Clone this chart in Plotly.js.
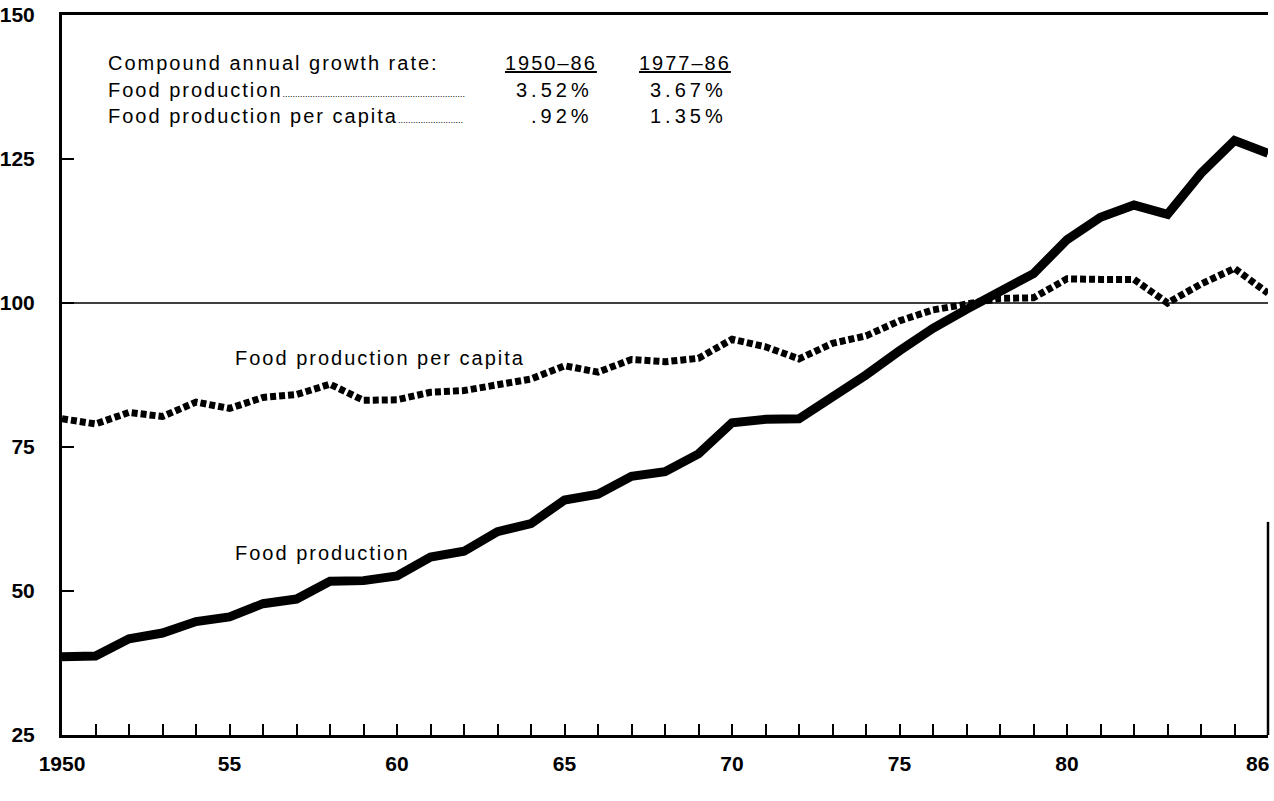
<!DOCTYPE html>
<html>
<head>
<meta charset="utf-8">
<script src="https://cdn.plot.ly/plotly-3.0.1.min.js"></script>
<style>
  html, body { margin: 0; padding: 0; background: #fff; }
  #chart { width: 1274px; height: 801px; }
</style>
</head>
<body>
<div id="chart"></div>
<script>
// ---- Data (index) ----
const years = [1950,1951,1952,1953,1954,1955,1956,1957,1958,1959,1960,
               1961,1962,1963,1964,1965,1966,1967,1968,1969,1970,1971,1972,
               1973,1974,1975,1976,1977,1978,1979,1980,1981,1982,1983,1984,1985,1986];

const foodProduction = [38.6, 38.7, 41.7, 42.7, 44.7, 45.5, 47.8, 48.6, 51.7, 51.8, 52.6,
                        55.9, 56.9, 60.3, 61.7, 65.8, 66.8, 69.9, 70.7, 73.8, 79.2, 79.8, 79.9,
                        83.6, 87.5, 91.7, 95.6, 98.9, 102.0, 105.1, 111.0, 114.9, 117.0, 115.4, 122.5, 128.2, 126.0];

const foodPerCapita = [79.9, 79.0, 81.0, 80.3, 82.8, 81.7, 83.6, 84.1, 85.9, 83.1, 83.2,
                       84.5, 84.8, 85.8, 86.8, 89.1, 88.0, 90.2, 89.8, 90.4, 93.7, 92.4, 90.3,
                       93.0, 94.3, 96.9, 98.8, 99.8, 100.8, 100.9, 104.2, 104.1, 104.1, 100.0, 103.3, 106.0, 101.7];

const xLabelYears = [1950, 1955, 1960, 1965, 1970, 1975, 1980];
const xLabelText  = ["1950", "55", "60", "65", "70", "75", "80"];
const xLastLabelYear = 1986;
const xLastLabelText = "86";

const yTickVals = [25, 50, 75, 100, 125, 150];
const yTickText = ["25", "50", "75", "100", "125", "150"];

const rateHeader = "Compound annual growth rate:";
const rateRows   = ["Food production", "Food production per capita"];
const ratePeriods = ["1950\u201386", "1977\u201386"];
const rates1950_86 = ["3.52%", ".92%"];
const rates1977_86 = ["3.67%", "1.35%"];

const seriesLabels = ["Food production per capita", "Food production"];

// ---- Build ----
const FONT = "Liberation Sans, Arial, Helvetica, sans-serif";

const xTickText = years.map(y => {
  const i = xLabelYears.indexOf(y);
  return i < 0 ? "" : xLabelText[i];
});

const traces = [
  {
    x: years, y: foodProduction, type: "scatter", mode: "lines",
    line: { color: "#000", width: 9 }, hoverinfo: "skip"
  },
  {
    x: years, y: foodPerCapita, type: "scatter", mode: "lines",
    line: { color: "#000", width: 7, dash: "6px,3px" }, hoverinfo: "skip"
  }
];

const sp = (t, s, extra) => "<span style='letter-spacing:" + s + "px" + (extra ? ";" + extra : "") + "'>" + t + "</span>";
const dots = n => "<span style='font-size:9px'>" + ".".repeat(n) + "</span>";

const tFont = { family: FONT, size: 20, color: "#000" };
const tickFont = { family: FONT, size: 21, color: "#000", weight: "bold" };
const rowY = [141.7, 136.9, 132.4];
const xLeft = 1951.3;

const annotations = [
  { x: xLeft, y: rowY[0], text: sp(rateHeader, 2), xanchor: "left", font: tFont },
  { x: xLeft, y: rowY[1], text: sp(rateRows[0], 2) + dots(73), xanchor: "left", font: tFont },
  { x: xLeft, y: rowY[2], text: sp(rateRows[1], 2) + dots(26), xanchor: "left", font: tFont },
  { x: 1964.6, y: rowY[0], text: sp(ratePeriods[0], 2, "text-decoration:underline"), xanchor: "center", font: tFont },
  { x: 1968.6, y: rowY[0], text: sp(ratePeriods[1], 2, "text-decoration:underline"), xanchor: "center", font: tFont },
  { x: 1965.9, y: rowY[1], text: sp(rates1950_86[0], 4), xanchor: "right", font: tFont },
  { x: 1965.9, y: rowY[2], text: sp(rates1950_86[1], 4), xanchor: "right", font: tFont },
  { x: 1969.9, y: rowY[1], text: sp(rates1977_86[0], 4), xanchor: "right", font: tFont },
  { x: 1969.9, y: rowY[2], text: sp(rates1977_86[1], 4), xanchor: "right", font: tFont },
  { x: 1955.1, y: 90.4, text: sp(seriesLabels[0], 2), xanchor: "left", font: tFont },
  { x: 1955.1, y: 56.6, text: sp(seriesLabels[1], 2), xanchor: "left", font: tFont }
].map(a => Object.assign({ xref: "x", yref: "y", showarrow: false, yanchor: "middle" }, a));

// last x label sits inside the right edge, as in the original
annotations.push({
  x: xLastLabelYear, y: 0, xref: "x", yref: "paper", text: xLastLabelText,
  showarrow: false, xanchor: "right", yanchor: "top", xshift: 3, yshift: -15,
  font: tickFont
});

const layout = {
  width: 1274, height: 801,
  margin: { l: 62, r: 6, t: 15, b: 66, pad: 0 },
  paper_bgcolor: "#fff", plot_bgcolor: "#fff",
  showlegend: false,
  font: { family: FONT, color: "#000" },
  xaxis: {
    range: [1950, 1986], fixedrange: true,
    showgrid: false, zeroline: false,
    showline: true, linecolor: "#000", linewidth: 3, mirror: true,
    ticks: "inside", ticklen: 11, tickwidth: 2, tickcolor: "#000",
    tickmode: "array", tickvals: years, ticktext: xTickText,
    tickfont: tickFont, ticklabelstandoff: 8
  },
  yaxis: {
    range: [25, 150], fixedrange: true,
    showgrid: false, zeroline: false,
    showline: true, linecolor: "#000", linewidth: 3,
    ticks: "inside", ticklen: 12, tickwidth: 2, tickcolor: "#000",
    tickmode: "array", tickvals: yTickVals, ticktext: yTickText,
    tickfont: tickFont, ticklabelstandoff: 20, ticklabeloverflow: "allow"
  },
  shapes: [
    { type: "line", xref: "paper", yref: "y", x0: 0, x1: 1, y0: 100, y1: 100,
      line: { color: "#000", width: 1.5 } },
    { type: "line", xref: "paper", yref: "y", x0: 1, x1: 1, y0: 25, y1: 62,
      line: { color: "#000", width: 2.5 } }
  ],
  annotations: annotations
};

Plotly.newPlot("chart", traces, layout, { displayModeBar: false, staticPlot: true });
</script>
</body>
</html>
